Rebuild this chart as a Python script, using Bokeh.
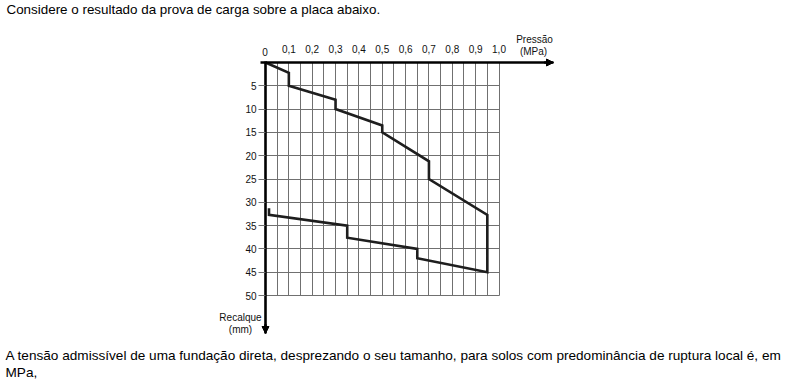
from bokeh.plotting import figure
from bokeh.models import Range1d, LinearAxis, FixedTicker, Label, Arrow, NormalHead, Grid
from bokeh.embed import file_html
from bokeh.resources import INLINE

# ---- data ----
pressure = [0, 0.1, 0.1, 0.3, 0.3, 0.5, 0.5, 0.7, 0.7, 0.95, 0.95, 0.65, 0.65, 0.35, 0.35, 0.015, 0.015]
settlement = [0, 2.2, 5, 8, 10, 13.5, 15, 21.2, 25, 32.7, 45, 42, 40, 37.6, 35, 32.7, 31.3]

x_ticks = [0.1, 0.2, 0.3, 0.4, 0.5, 0.6, 0.7, 0.8, 0.9, 1.0]
x_tick_labels = ["0,1", "0,2", "0,3", "0,4", "0,5", "0,6", "0,7", "0,8", "0,9", "1,0"]
y_ticks = [5, 10, 15, 20, 25, 30, 35, 40, 45, 50]
x_grid = [0.05, 0.1, 0.15, 0.2, 0.25, 0.3, 0.35, 0.4, 0.45, 0.5,
          0.55, 0.6, 0.65, 0.7, 0.75, 0.8, 0.85, 0.9, 0.95, 1.0]
grid_x_max = 1.0
grid_y_max = 50

title_text = "Considere o resultado da prova de carga sobre a placa abaixo."
question_line1 = ("A tensão admissível de uma fundação direta, desprezando o seu tamanho, "
                  "para solos com predominância de ruptura local é, em")
question_line2 = "MPa,"

# ---- layout constants ----
W, H = 804, 387
X0PX, XS = 265.0, 233.5     # pixel of x=0, pixels per MPa
Y0PX, YS = 62.0, 4.66       # pixel of y=0, pixels per mm
FONT = "Liberation Sans"


def dx(px):
    return (px - X0PX) / XS


def dy(py):
    return (py - Y0PX) / YS


x_tip = dx(553)
y_tip = dy(333)

p = figure(width=W, height=H, output_backend="svg", toolbar_location=None,
           x_range=Range1d(dx(0), dx(W)), y_range=Range1d(dy(H), dy(0)),
           x_axis_location=None, y_axis_location=None,
           min_border=0, min_border_left=0, min_border_right=0,
           min_border_top=0, min_border_bottom=0)
p.outline_line_color = None
p.xgrid.visible = False
p.ygrid.visible = False

grid_color = "#707070"
has_cross = "cross_bounds" in Grid.properties()
if has_cross:
    gx = Grid(dimension=0, ticker=FixedTicker(ticks=x_grid), cross_bounds=(0, grid_y_max),
              grid_line_color=grid_color, grid_line_width=1)
    gy = Grid(dimension=1, ticker=FixedTicker(ticks=y_ticks), cross_bounds=(0, grid_x_max),
              grid_line_color=grid_color, grid_line_width=1)
    p.add_layout(gx)
    p.add_layout(gy)
else:
    p.segment(x0=x_grid, y0=[0] * len(x_grid), x1=x_grid, y1=[grid_y_max] * len(x_grid),
              line_color=grid_color, line_width=1)
    p.segment(x0=[0] * len(y_ticks), y0=y_ticks, x1=[grid_x_max] * len(y_ticks), y1=y_ticks,
              line_color=grid_color, line_width=1)

p.line(pressure, settlement, line_color="#1e1e1e", line_width=2.6, line_join="miter")

xaxis = LinearAxis(ticker=FixedTicker(ticks=x_ticks),
                   major_label_overrides={t: s for t, s in zip(x_ticks, x_tick_labels)},
                   fixed_location=0, bounds=(dx(260), x_tip),
                   axis_line_width=2.6, axis_line_color="black",
                   major_tick_out=0, major_tick_in=0, minor_tick_out=0, minor_tick_in=0,
                   major_label_standoff=10,
                   major_label_text_font=FONT, major_label_text_font_size="10px",
                   major_label_text_color="#111111")
p.add_layout(xaxis, "above")

yaxis = LinearAxis(ticker=FixedTicker(ticks=y_ticks), fixed_location=0,
                   bounds=(dy(61), y_tip),
                   axis_line_width=2.6, axis_line_color="black",
                   major_tick_out=7, major_tick_in=0, major_tick_line_color=grid_color,
                   minor_tick_out=0, minor_tick_in=0,
                   major_label_standoff=2,
                   major_label_text_font=FONT, major_label_text_font_size="10px",
                   major_label_text_color="#111111")
p.add_layout(yaxis, "left")

# axis arrow heads
p.add_layout(Arrow(x_start=x_tip - 0.04, y_start=0, x_end=x_tip, y_end=0,
                   line_width=2.6, line_color="black",
                   end=NormalHead(size=7, fill_color="black", line_color="black", line_width=1)))
p.add_layout(Arrow(x_start=0, y_start=y_tip - 2, x_end=0, y_end=y_tip,
                   line_width=2.6, line_color="black",
                   end=NormalHead(size=7, fill_color="black", line_color="black", line_width=1)))


def lab(text, px, py, align="left", size="10px", color="#111111"):
    p.add_layout(Label(x=dx(px), y=dy(py), text=text, text_align=align,
                       text_baseline="middle", text_font=FONT, text_font_size=size,
                       text_color=color))


lab("0", 264.5, 51, align="center")
lab("Pressão", 534, 39, align="center")
lab("(MPa)", 533, 51, align="center")
lab("Recalque", 240, 316.5, align="center")
lab("(mm)", 240, 329, align="center")
lab(title_text, 6, 9, size="13.4px", color="black")
lab(question_line1, 5, 355, size="13.6px", color="black")
lab(question_line2, 5, 372, size="13.6px", color="black")

open("out.html", "w").write(file_html(p, INLINE))
